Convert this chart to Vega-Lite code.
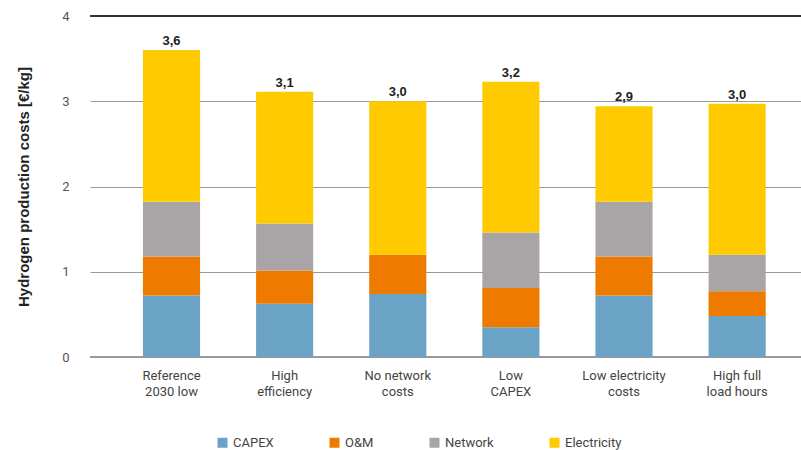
{
  "$schema": "https://vega.github.io/schema/vega-lite/v6.json",
  "width": 711,
  "height": 341,
  "autosize": {"type": "none"},
  "padding": {"left": 90, "top": 16, "right": 0, "bottom": 93},
  "background": "white",
  "config": {
    "locale": {"number": {"decimal": ",", "thousands": ".", "grouping": [3], "currency": ["", " €"]}},
    "view": {"stroke": null},
    "font": "Liberation Sans"
  },
  "data": {
    "values": [
      {"scenario": "Reference\n2030 low", "component": "CAPEX", "layer": 1, "cost": 0.72},
      {"scenario": "Reference\n2030 low", "component": "O&M", "layer": 2, "cost": 0.46},
      {"scenario": "Reference\n2030 low", "component": "Network", "layer": 3, "cost": 0.64},
      {"scenario": "Reference\n2030 low", "component": "Electricity", "layer": 4, "cost": 1.78},
      {"scenario": "High\nefficiency", "component": "CAPEX", "layer": 1, "cost": 0.625},
      {"scenario": "High\nefficiency", "component": "O&M", "layer": 2, "cost": 0.39},
      {"scenario": "High\nefficiency", "component": "Network", "layer": 3, "cost": 0.55},
      {"scenario": "High\nefficiency", "component": "Electricity", "layer": 4, "cost": 1.545},
      {"scenario": "No network\ncosts", "component": "CAPEX", "layer": 1, "cost": 0.74},
      {"scenario": "No network\ncosts", "component": "O&M", "layer": 2, "cost": 0.46},
      {"scenario": "No network\ncosts", "component": "Network", "layer": 3, "cost": 0.0},
      {"scenario": "No network\ncosts", "component": "Electricity", "layer": 4, "cost": 1.8},
      {"scenario": "Low\nCAPEX", "component": "CAPEX", "layer": 1, "cost": 0.35},
      {"scenario": "Low\nCAPEX", "component": "O&M", "layer": 2, "cost": 0.46},
      {"scenario": "Low\nCAPEX", "component": "Network", "layer": 3, "cost": 0.65},
      {"scenario": "Low\nCAPEX", "component": "Electricity", "layer": 4, "cost": 1.77},
      {"scenario": "Low electricity\ncosts", "component": "CAPEX", "layer": 1, "cost": 0.72},
      {"scenario": "Low electricity\ncosts", "component": "O&M", "layer": 2, "cost": 0.46},
      {"scenario": "Low electricity\ncosts", "component": "Network", "layer": 3, "cost": 0.64},
      {"scenario": "Low electricity\ncosts", "component": "Electricity", "layer": 4, "cost": 1.12},
      {"scenario": "High full\nload hours", "component": "CAPEX", "layer": 1, "cost": 0.48},
      {"scenario": "High full\nload hours", "component": "O&M", "layer": 2, "cost": 0.29},
      {"scenario": "High full\nload hours", "component": "Network", "layer": 3, "cost": 0.43},
      {"scenario": "High full\nload hours", "component": "Electricity", "layer": 4, "cost": 1.77}
    ]
  },
  "encoding": {
    "x": {
      "field": "scenario",
      "type": "nominal",
      "sort": null,
      "scale": {"paddingInner": 0.495, "paddingOuter": 0.39, "align": 0.6},
      "axis": {
        "title": null,
        "labelAngle": 0,
        "labelExpr": "split(datum.label, '\\n')",
        "labelFont": "Roboto",
        "labelFontSize": 13,
        "labelColor": "#444444",
        "labelPadding": 12,
        "labelLineHeight": 16,
        "ticks": false,
        "domain": false,
        "grid": false
      }
    }
  },
  "layer": [
    {
      "mark": {"type": "rule", "color": "#999999", "strokeWidth": 1.2},
      "encoding": {
        "y": {"datum": 0, "type": "quantitative"},
        "x": null
      }
    },
    {
      "mark": {"type": "rule", "color": "#333333", "strokeWidth": 1.2},
      "encoding": {
        "y": {"datum": 4, "type": "quantitative"},
        "x": null
      }
    },
    {
      "mark": {"type": "bar"},
      "encoding": {
        "y": {
          "field": "cost",
          "type": "quantitative",
          "aggregate": "sum",
          "stack": "zero",
          "scale": {"domain": [0, 4]},
          "axis": {
            "title": "Hydrogen production costs [€/kg]",
            "titleFont": "Liberation Sans",
            "titleFontSize": 15,
            "titleFontWeight": "bold",
            "titleColor": "#222222",
            "titlePadding": 30,
            "values": [0, 1, 2, 3, 4],
            "format": "d",
            "labelFont": "Roboto",
            "labelFontSize": 13,
            "labelColor": "#555555",
            "labelPadding": 21,
            "ticks": false,
            "domain": false,
            "grid": true,
            "gridColor": "#999999",
            "gridWidth": 1.2
          }
        },
        "color": {
          "field": "component",
          "type": "nominal",
          "sort": ["CAPEX", "O&M", "Network", "Electricity"],
          "scale": {
            "domain": ["CAPEX", "O&M", "Network", "Electricity"],
            "range": ["#6BA3C6", "#EE7A00", "#A9A5A7", "#FFCB00"]
          },
          "legend": {
            "title": null,
            "orient": "none",
            "legendX": 126,
            "legendY": 420,
            "direction": "horizontal",
            "symbolType": "square",
            "symbolSize": 100,
            "symbolStrokeWidth": 0,
            "labelFont": "Roboto",
            "labelFontSize": 13,
            "labelColor": "#444444",
            "columnPadding": 54,
            "labelLimit": 200
          }
        },
        "order": {"field": "layer", "type": "quantitative", "aggregate": "min"}
      }
    },
    {
      "mark": {"type": "text", "dy": -9, "fontWeight": "bold", "fontSize": 13, "color": "#222222", "font": "Liberation Sans"},
      "encoding": {
        "y": {"field": "cost", "type": "quantitative", "aggregate": "sum"},
        "text": {"field": "cost", "type": "quantitative", "aggregate": "sum", "format": ".1f"}
      }
    }
  ]
}
